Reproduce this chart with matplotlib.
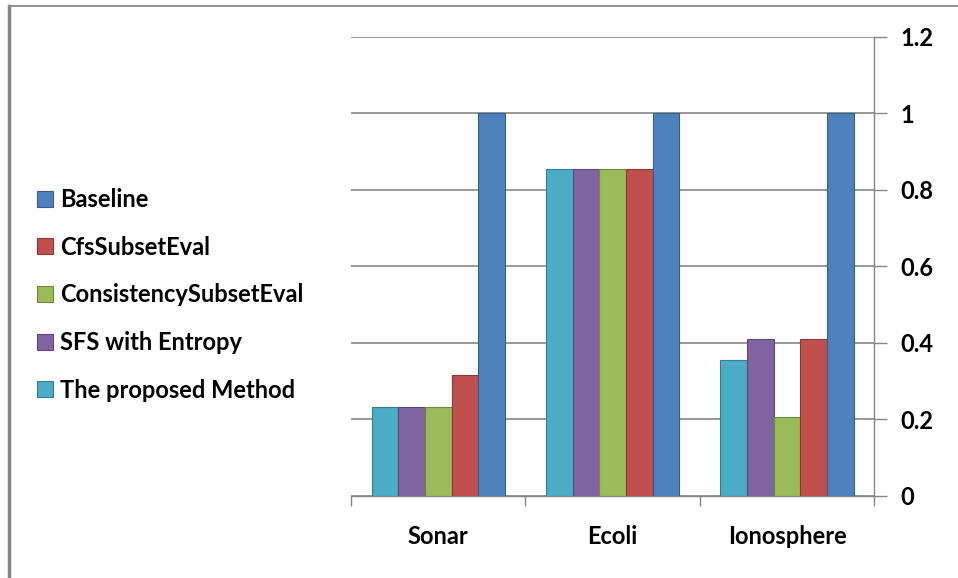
import matplotlib.pyplot as plt
import numpy as np
from matplotlib.lines import Line2D

plt.rcParams['font.family'] = ['Lato', 'DejaVu Sans']

# data
datasets = ['Sonar', 'Ecoli', 'Ionosphere']
methods = ['The proposed Method', 'SFS with Entropy', 'ConsistencySubsetEval',
           'CfsSubsetEval', 'Baseline']
proposed = [0.232, 0.856, 0.355]
sfs_entropy = [0.232, 0.856, 0.410]
consistency = [0.232, 0.856, 0.206]
cfs = [0.316, 0.856, 0.410]
baseline = [1.0, 1.0, 1.0]
yticks = [0, 0.2, 0.4, 0.6, 0.8, 1, 1.2]
ytick_labels = ['0', '0.2', '0.4', '0.6', '0.8', '1', '1.2']

series = [proposed, sfs_entropy, consistency, cfs, baseline]
colors = ['#4BACC6', '#8064A2', '#9BBB59', '#C0504D', '#4F81BD']
edges = ['#357D91', '#5C4776', '#71893F', '#8C3836', '#385D8A']

fig = plt.figure(figsize=(9.58, 5.78), dpi=100)
ax = fig.add_axes([0.3664, 0.1419, 0.5462, 0.7941])

x = np.arange(len(datasets))
w = 0.153
bars = {}
for i, (name, vals) in enumerate(zip(methods, series)):
    bars[name] = ax.bar(x + (i - 2) * w, vals, w, color=colors[i],
                        edgecolor=edges[i], linewidth=0.8, zorder=3)

ax.set_xlim(-0.5, 2.5)
ax.set_ylim(0, 1.2)
ax.yaxis.tick_right()
ax.set_yticks(yticks)
ax.set_yticklabels(ytick_labels, fontsize=17, fontweight='bold', ha='left')
ax.tick_params(axis='y', length=9, width=1, color='#868686', pad=10)
ax.set_xticks(x)
ax.set_xticklabels(datasets, fontsize=17, fontweight='bold')
ax.tick_params(axis='x', length=0, pad=21)
ax.set_xticks(np.arange(-0.5, 3, 1), minor=True)
ax.tick_params(axis='x', which='minor', length=7, width=1, color='#868686')

ax.grid(axis='y', color='#868686', linewidth=1.2, zorder=0)
for s in ['top', 'left']:
    ax.spines[s].set_visible(False)
for s in ['right', 'bottom']:
    ax.spines[s].set_color('#868686')
    ax.spines[s].set_linewidth(1)

# legend on the left, Baseline first
order = ['Baseline', 'CfsSubsetEval', 'ConsistencySubsetEval',
         'SFS with Entropy', 'The proposed Method']
leg = fig.legend([bars[n] for n in order], order, loc='center left',
                 bbox_to_anchor=(0.0167, 0.49), frameon=False,
                 prop={'size': 17, 'weight': 'bold'}, handlelength=0.68,
                 handleheight=0.68, handletextpad=0.3, labelspacing=1.045)

# chart frame lines (left and top)
fig.add_artist(Line2D([0.0099, 0.0099], [0, 0.989], color='#868686',
                      linewidth=2.5, transform=fig.transFigure))
fig.add_artist(Line2D([0.0099, 1], [0.989, 0.989], color='#868686',
                      linewidth=1.3, transform=fig.transFigure))

fig.savefig('out.png', dpi=100, facecolor='white')
